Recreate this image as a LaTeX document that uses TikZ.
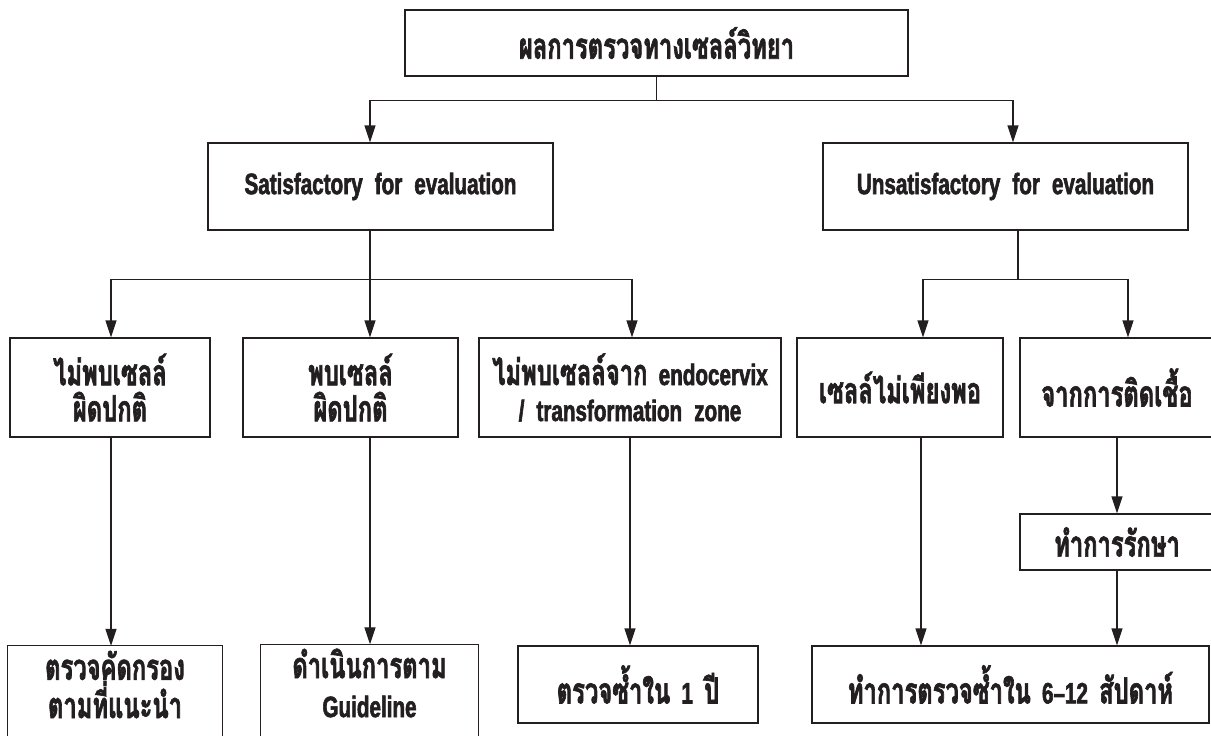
\documentclass[tikz,border=0pt]{standalone}
\usepackage{fontspec}
\usetikzlibrary{arrows.meta}
\newfontfamily\thfont[Script=Thai,WordSpace=1.4,FakeStretch=0.66,FakeBold=1.8]{Loma}
\newfontfamily\lafont[FakeStretch=0.7,FakeBold=2,WordSpace=2.1]{Liberation Sans}
\newcommand\latxt[1]{{\lafont\bfseries\fontsize{29.5}{37}\selectfont #1}}
\definecolor{ink}{HTML}{231F20}
\begin{document}
\begin{tikzpicture}[x=1pt,y=-1pt,
  lbl/.style={inner sep=0pt, align=center, text=ink,
    font=\thfont\bfseries\fontsize{36}{36}\selectfont},
  box/.style={lbl, draw=ink, line width=1.3pt},
  link/.style={draw=ink, line width=1.3pt},
  arr/.style={link, -{Triangle[length=17pt,width=11pt]}}]
\clip (0,0) rectangle (1211,736);

% level 0
\node[box, minimum width=503pt, minimum height=66pt] (top) at (656.5,43) {ผลการตรวจทางเซลล์วิทยา};

% level 1
\node[box, minimum width=345pt, minimum height=87pt] (sat) at (380.5,186.5) {\latxt{Satisfactory for evaluation}};
\node[box, minimum width=365pt, minimum height=87pt] (unsat) at (1005.5,186.5) {\latxt{Unsatisfactory for evaluation}};

% level 2
\node[box, minimum width=200pt, minimum height=99pt] (n1) at (110,387.5) {ไม่พบเซลล์\\ผิดปกติ};
\node[box, minimum width=215pt, minimum height=99pt] (n2) at (350.5,387.5) {พบเซลล์\\ผิดปกติ};
\node[box, minimum width=302pt, minimum height=99pt] (n3) at (630,387.5) {ไม่พบเซลล์จาก \latxt{endocervix}\\\latxt{/ transformation zone}};
\node[box, minimum width=206pt, minimum height=99pt] (n4) at (900,387.5) {เซลล์ไม่เพียงพอ};
\node[box, minimum width=194pt, minimum height=99pt] (n5) at (1117,387.5) {จากการติดเชื้อ};
\node[box, minimum width=194pt, minimum height=56pt] (treat) at (1117,542) {ทำการรักษา};

% level 3
\node[lbl, minimum width=214pt, minimum height=77pt] (b1) at (115,684.5) {ตรวจคัดกรอง\\ตามที่แนะนำ};
\node[lbl, minimum width=217pt, minimum height=77pt] (b2) at (369.5,683) {ดำเนินการตาม\\[3pt]\latxt{Guideline}};
\node[box, minimum width=240pt, minimum height=77pt] (b3) at (638,684.5) {ตรวจซ้ำใน \latxt{1} ปี};
\node[box, minimum width=397pt, minimum height=77pt] (b4) at (1010.5,684.5) {ทำการตรวจซ้ำใน \latxt{6–12} สัปดาห์};

% open-bottom frames of the two left result boxes
\draw[link] ([yshift=-30pt]b1.south west) -- (b1.north west) -- (b1.north east) -- ([yshift=-30pt]b1.south east);
\draw[link] ([yshift=-30pt]b2.south west) -- (b2.north west) -- (b2.north east) -- ([yshift=-30pt]b2.south east);

% connectors
\draw[link] (top.south) -- ++(0,-24pt) coordinate (j0);
\draw[arr] (j0) -| ([xshift=-10.5pt]sat.north);
\draw[arr] (j0) -| ([xshift=7.5pt]unsat.north);

\draw[link] ([xshift=-10.5pt]sat.south) -- ++(0,-49pt) coordinate (j1);
\draw[arr] (j1) -| ([xshift=1pt]n1.north);
\draw[arr] ([xshift=-10.5pt]sat.south) -- ([xshift=19.5pt]n2.north);
\draw[arr] (j1) -| ([xshift=2pt]n3.north);

\draw[link] ([xshift=12.5pt]unsat.south) -- ++(0,-49pt) coordinate (j2);
\draw[arr] (j2) -| ([xshift=23pt]n4.north);
\draw[arr] (j2) -| ([xshift=11pt]n5.north);

\draw[arr] ([xshift=1pt]n1.south) -- ([xshift=-4pt]b1.north);
\draw[arr] ([xshift=19.5pt]n2.south) -- ([xshift=0.5pt]b2.north);
\draw[arr] (n3.south) -- ([xshift=-8pt]b3.north);
\draw[arr] ([xshift=21pt]n4.south) -- ([xshift=-89.5pt]b4.north);
\draw[arr] (n5.south) -- (treat.north);
\draw[arr] (treat.south) -- ([xshift=106.5pt]b4.north);
\end{tikzpicture}
\end{document}
